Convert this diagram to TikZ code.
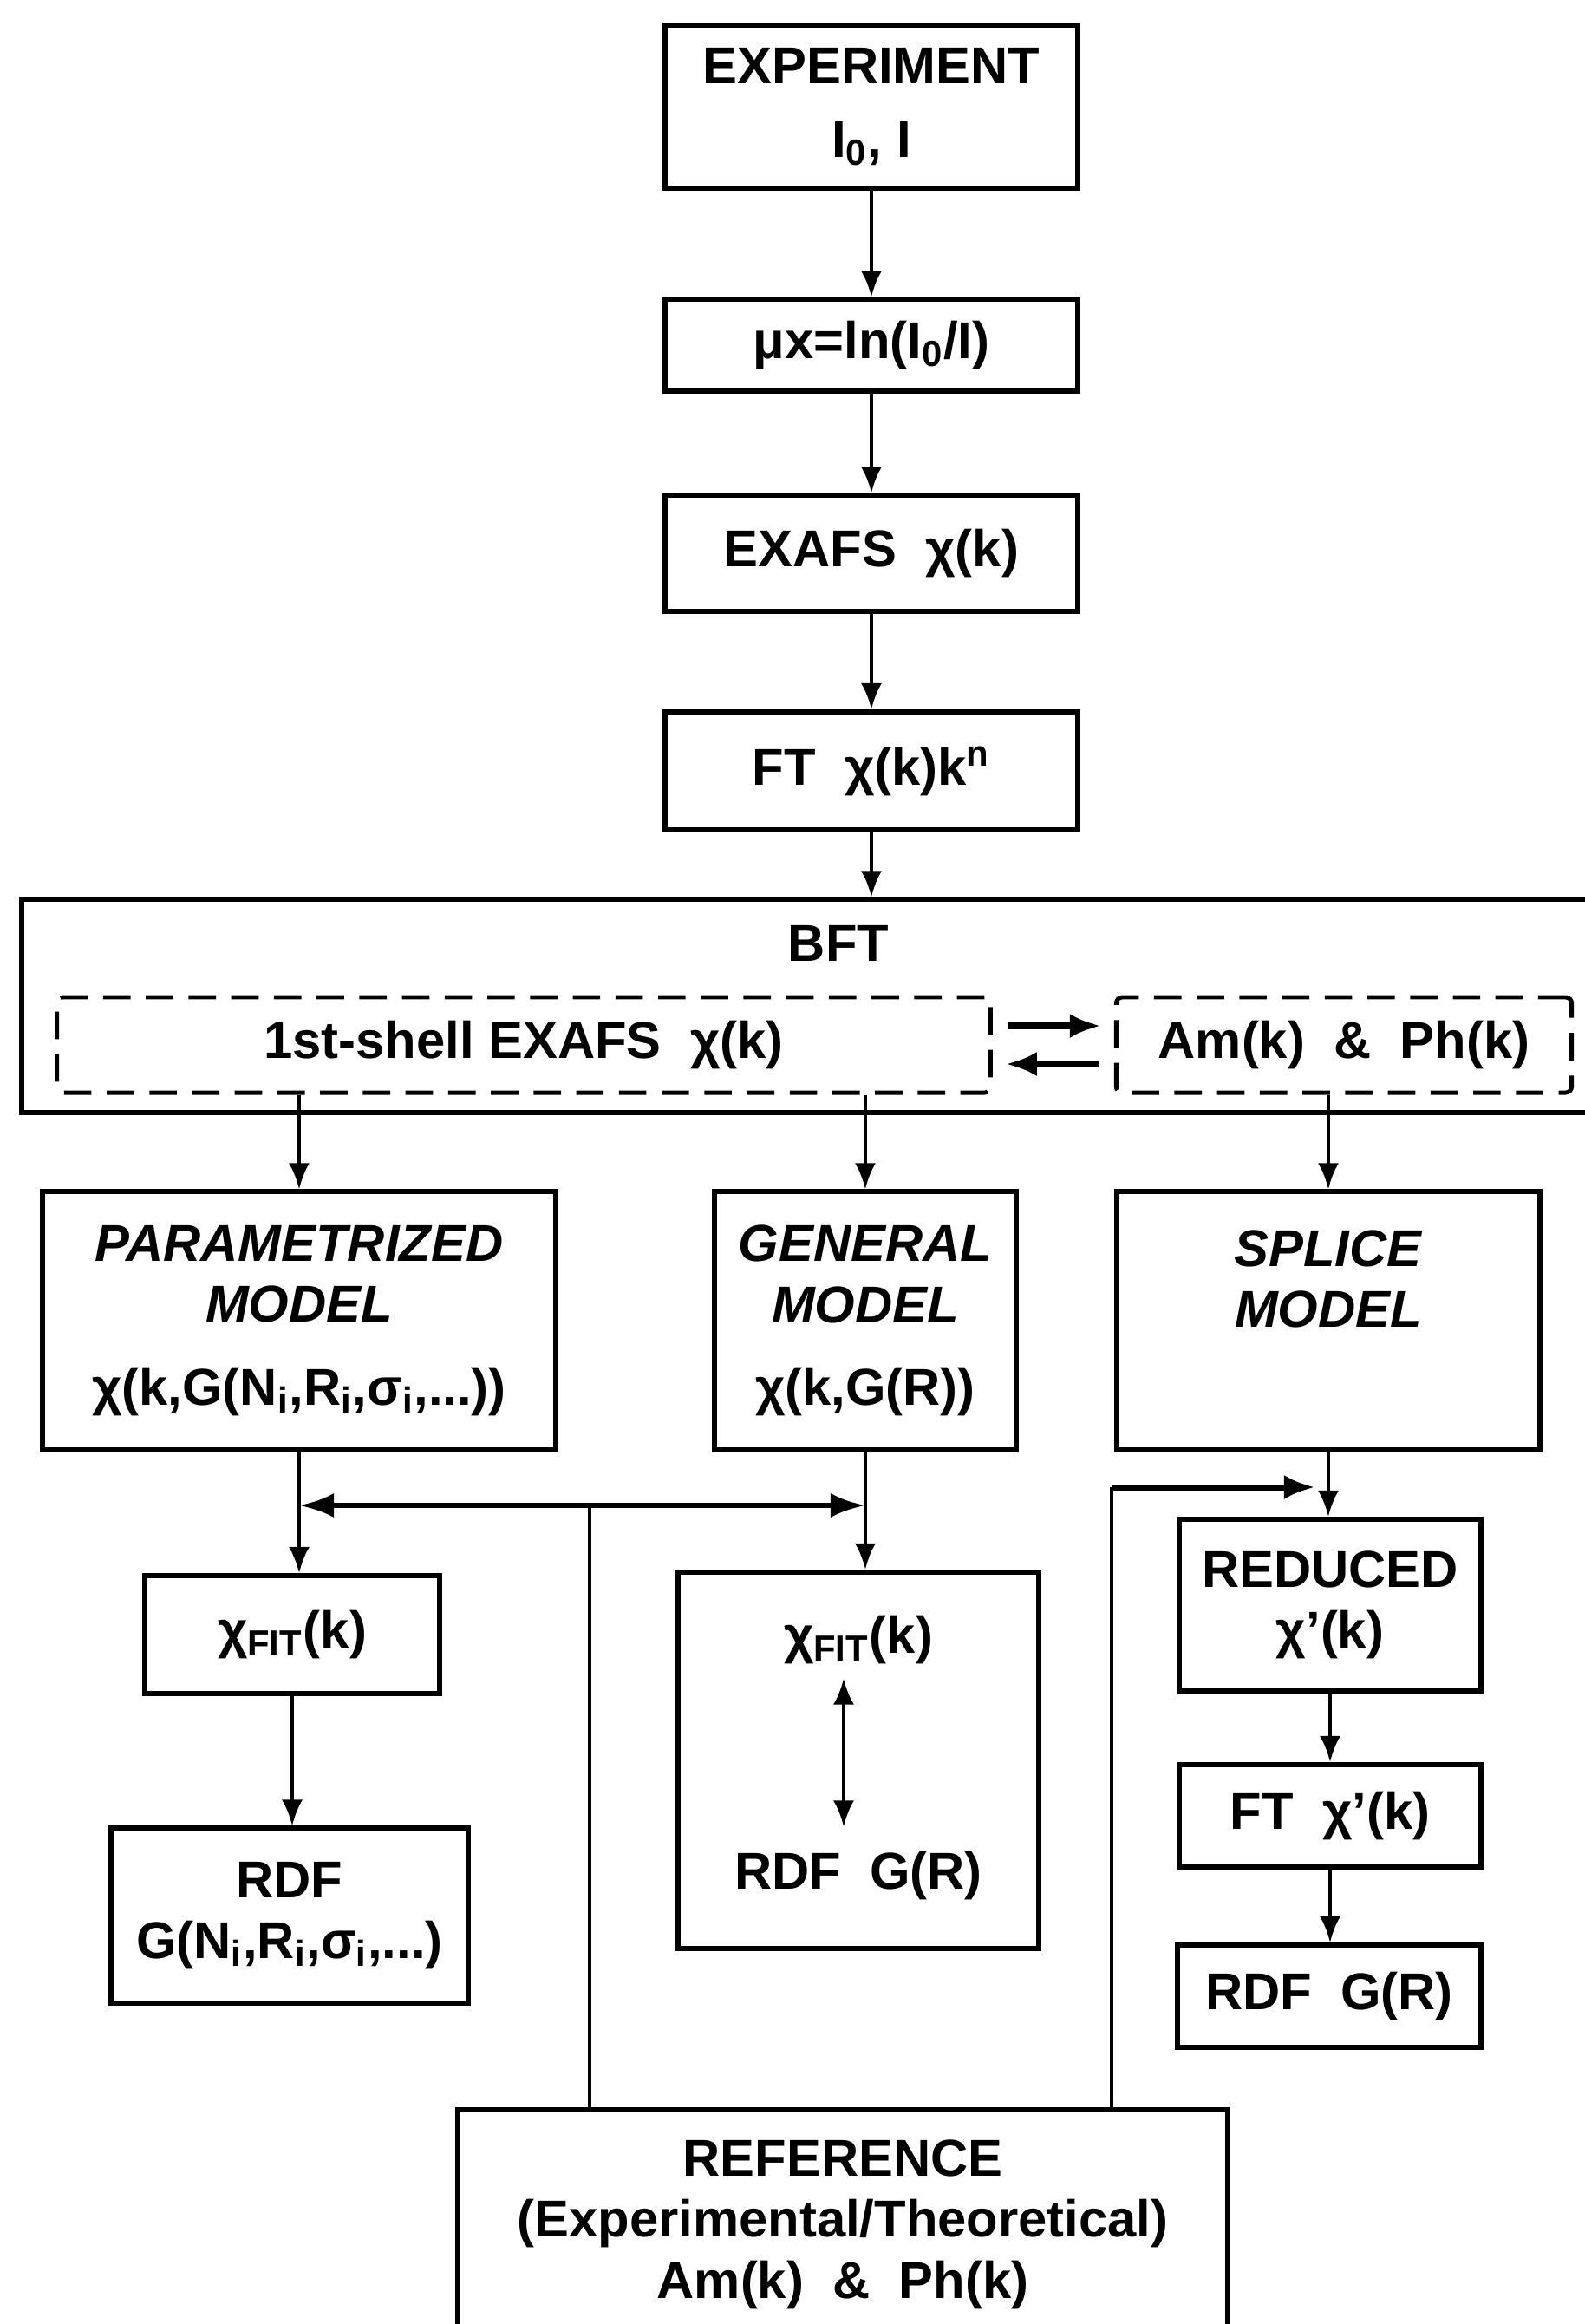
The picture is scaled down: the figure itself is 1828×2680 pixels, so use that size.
\documentclass[tikz,border=0pt]{standalone}
\usepackage{fontspec}
\setmainfont{Liberation Sans}
\usepackage{tikz}
\usetikzlibrary{
  arrows.meta,
  positioning,
  calc
}
\tikzset{
  blk/.style={
    draw, line width=1.7pt, inner sep=0pt, align=center,
    font=\bfseries\fontsize{17}{20}\selectfont
  },
  blkdash/.style={blk, line width=1.4pt, dash pattern=on 9pt off 5pt, rounded corners=2pt},
  lbl/.style={inner sep=0pt, align=center, font=\bfseries\fontsize{17}{20}\selectfont},
  wire/.style={line width=1.2pt},
  flow/.style={wire, -{Latex[length=3mm, width=2.4mm]}},
  xchg/.style={line width=2pt, -{Latex[length=3.6mm, width=2.8mm]}, shorten <=1.8mm, shorten >=1.5mm},
  twoway/.style={line width=1.8pt, {Latex[length=4mm, width=2.8mm]}-{Latex[length=4mm, width=2.8mm]}}
}
\newcommand{\chifit}{χ\textsubscript{FIT}(k)}
\newcommand{\nrs}{N\textsubscript{i},R\textsubscript{i},σ\textsubscript{i},...}

\begin{document}
\begin{tikzpicture}[x=0.01cm, y=-0.01cm]
  \useasboundingbox (0,0) rectangle (1828,2680);
  % main chain
  \node[blk, minimum width=4.76cm, minimum height=1.88cm] (exp) at (1005,123) {EXPERIMENT\\[4pt]I\textsubscript{0}, I};
  \node[blk, minimum width=4.76cm, minimum height=1.05cm] (mux) at (1005,398) {μx=ln(I\textsubscript{0}/I)};
  \node[blk, minimum width=4.76cm, minimum height=1.33cm] (exafs) at (1005,638) {EXAFS\ \ χ(k)};
  \node[blk, minimum width=4.76cm, minimum height=1.36cm] (ft) at (1005,889) {FT\ \ χ(k)k\textsuperscript{n}};
  % BFT block
  \node[blk, minimum width=18.24cm, minimum height=2.45cm] (bft) at (938,1160) {};
  \node[lbl] (bfttxt) at (967,1088) {BFT};
  \node[blkdash, minimum width=10.76cm, minimum height=1.10cm] (shell) at (604,1205) {1st-shell EXAFS\ \ χ(k)};
  \node[blkdash, minimum width=5.25cm, minimum height=1.10cm] (amph) at (1550,1205) {Am(k)\ \ \&\ \ Ph(k)};
  % models
  \node[blk, minimum width=5.92cm, minimum height=2.97cm] (param) at (345,1523)
    {\textit{PARAMETRIZED}\\\textit{MODEL}\\[2.5mm]χ(k,G(\nrs))};
  \node[blk, minimum width=3.47cm, minimum height=2.97cm] (general) at (998,1523)
    {\textit{GENERAL}\\\textit{MODEL}\\[2.5mm]χ(k,G(R))};
  \node[blk, minimum width=4.88cm, minimum height=2.97cm] (splice) at (1532,1523)
    {\textit{SPLICE}\\\textit{MODEL}\\[0.5mm]\strut};
  % results
  \node[blk, minimum width=3.40cm, minimum height=1.36cm] (fita) at (337,1885) {\chifit};
  \node[blk, minimum width=4.11cm, minimum height=2.01cm] (rdfa) at (334,2209) {RDF\\G(\nrs)};
  \node[blk, minimum width=4.15cm, minimum height=4.34cm] (genfit) at (990,2030) {};
  \node[lbl] (gfit) at (990,1891) {\chifit};
  \node[lbl] (grdf) at (990,2163) {RDF\ \ G(R)};
  \node[blk, minimum width=3.48cm, minimum height=1.98cm] (reduced) at (1534,1851) {REDUCED\\χ'(k)};
  \node[blk, minimum width=3.48cm, minimum height=1.18cm] (ftred) at (1534,2094) {FT\ \ χ'(k)};
  \node[blk, minimum width=3.50cm, minimum height=1.18cm] (rdfb) at (1533,2302) {RDF\ \ G(R)};
  \node[blk, minimum width=8.88cm, minimum height=2.64cm] (ref) at (972,2565)
    {REFERENCE\\(Experimental/Theoretical)\\Am(k)\ \ \&\ \ Ph(k)};
  \coordinate (hub) at (680,1736);
  \coordinate (bend) at (1282,1715);
  % connectors
  \foreach \a/\b in {exp/mux,mux/exafs,exafs/ft,ft/bft,param/fita,fita/rdfa,general/genfit,splice/reduced,reduced/ftred,ftred/rdfb}
    {\draw[flow] (\a.south) -- (\a.south |- \b.north);}
  \foreach \b in {param,general}
    {\draw[flow] (\b.north |- shell.south) -- (\b.north);}
  \draw[flow] (splice.north |- amph.south) -- (splice.north);
  \draw[xchg] ([yshift=2.2mm]shell.east) -- ([yshift=2.2mm]amph.west);
  \draw[xchg] ([yshift=-2.2mm]amph.west) -- ([yshift=-2.2mm]shell.east);
  \draw[twoway] (param.south |- hub) -- (general.south |- hub);
  \draw[wire] (ref.north -| hub) -- (hub);
  \draw[wire] (ref.north -| bend) -- (bend);
  \draw[line width=2pt, -{Latex[length=3.6mm, width=2.8mm]}, shorten >=1.5mm] (bend) -- (splice.south |- bend);
  \draw[wire, {Latex[length=3mm, width=2.4mm]}-{Latex[length=3mm, width=2.4mm]}, shorten <=1.6mm, shorten >=2.8mm]
    ([xshift=-1.7mm]gfit.south) -- ([xshift=-1.7mm]grdf.north);
\end{tikzpicture}
\end{document}
